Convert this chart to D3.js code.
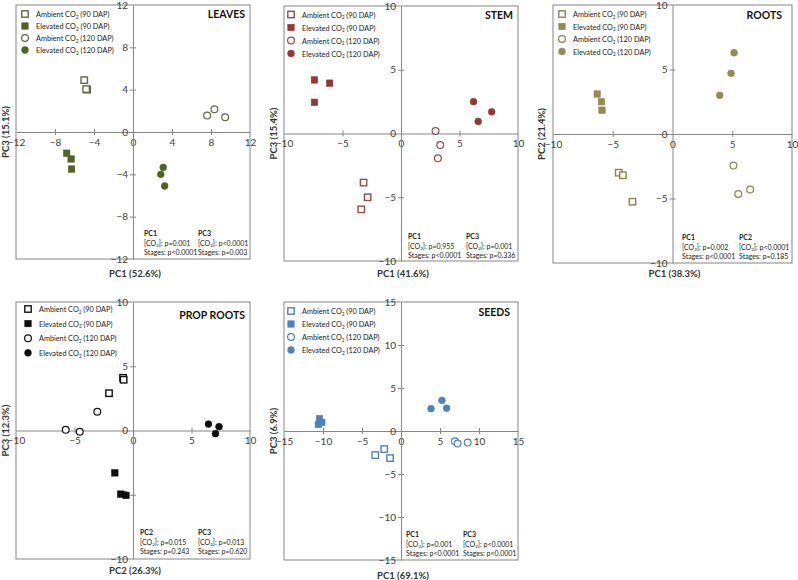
<!DOCTYPE html>
<html><head><meta charset="utf-8">
<script src="https://cdn.jsdelivr.net/npm/d3@7"></script>
<style>body{margin:0;background:#fff}svg{font-family:Lato,"Open Sans",sans-serif}</style>
</head><body>
<svg id="c" width="798" height="580"></svg>
<script>
// ---------- DATA ----------
const seriesNames = ["Ambient CO2 (90 DAP)","Elevated CO2 (90 DAP)","Ambient CO2 (120 DAP)","Elevated CO2 (120 DAP)"];
const panelTitles = ["LEAVES","STEM","ROOTS","PROP ROOTS","SEEDS"];
const xLabels = ["PC1 (52.6%)","PC1 (41.6%)","PC1 (38.3%)","PC2 (26.3%)","PC1 (69.1%)"];
const yLabels = ["PC3 (15.1%)","PC3 (15.4%)","PC2 (21.4%)","PC3 (12.3%)","PC3 (6.9%)"];
const axisLimits = [12,10,10,10,15];
const tickSteps = [4,5,5,5,5];

const leavesAmb90 = [[-5.0,4.9],[-4.7,4.0],[-4.8,4.05]];
const leavesEle90 = [[-6.8,-2.0],[-6.35,-2.55],[-6.3,-3.5]];
const leavesAmb120 = [[7.6,1.55],[8.35,2.15],[9.45,1.4]];
const leavesEle120 = [[3.1,-3.35],[2.85,-4.0],[3.25,-5.1]];

const stemAmb90 = [[-3.2,-3.85],[-2.85,-5.0],[-3.4,-5.95]];
const stemEle90 = [[-7.4,4.2],[-6.1,3.95],[-7.4,2.45]];
const stemAmb120 = [[2.95,0.2],[3.35,-0.9],[3.15,-1.95]];
const stemEle120 = [[6.2,2.5],[7.75,1.7],[6.6,0.95]];

const rootsAmb90 = [[-4.5,-3.0],[-4.15,-3.2],[-3.35,-5.25]];
const rootsEle90 = [[-6.3,3.1],[-5.95,2.5],[-5.9,1.85]];
const rootsAmb120 = [[5.1,-2.45],[5.5,-4.65],[6.5,-4.3]];
const rootsEle120 = [[5.15,6.3],[4.9,4.7],[3.95,3.0]];

const propAmb90 = [[-0.85,4.1],[-0.8,3.95],[-2.05,2.9]];
const propEle90 = [[-1.55,-3.3],[-1.05,-4.95],[-0.6,-5.05]];
const propAmb120 = [[-3.05,1.45],[-5.75,0.05],[-4.55,-0.1]];
const propEle120 = [[6.45,0.5],[7.35,0.3],[7.05,-0.25]];

const seedsAmb90 = [[-3.3,-2.8],[-2.15,-2.1],[-1.4,-3.15]];
const seedsEle90 = [[-10.45,1.45],[-10.15,1.0],[-10.6,0.75]];
const seedsAmb120 = [[6.9,-1.2],[7.25,-1.45],[8.55,-1.35]];
const seedsEle120 = [[3.85,2.6],[5.25,3.55],[5.85,2.65]];

const statHeads = [["PC1","PC3"],["PC1","PC3"],["PC1","PC2"],["PC2","PC3"],["PC1","PC3"]];
const statCO2 = [["p=0.001","p<0.0001"],["p=0.955","p=0.001"],["p=0.002","p<0.0001"],["p=0.015","p=0.013"],["p=0.001","p<0.0001"]];
const statStages = [["p<0.0001","p=0.003"],["p<0.0001","p=0.336"],["p<0.0001","p=0.185"],["p=0.243","p=0.620"],["p<0.0001","p<0.0001"]];

const panelData = [
  [leavesAmb90,leavesEle90,leavesAmb120,leavesEle120],
  [stemAmb90,stemEle90,stemAmb120,stemEle120],
  [rootsAmb90,rootsEle90,rootsAmb120,rootsEle120],
  [propAmb90,propEle90,propAmb120,propEle120],
  [seedsAmb90,seedsEle90,seedsAmb120,seedsEle120]
];

// ---------- STYLE / LAYOUT ----------
const colors = ["#4f6228","#953735","#938953","#0d0d0d","#4f81bd"];
const openStroke = ["#5d6b45","#9b4a48","#8a8256","#111111","#4f81bd"];
const openFill = ["#ffffff","#ffffff","#fffff4","#ffffff","#ffffff"];
const boxes = [
  {x0:16,x1:250,y0:5,y1:259, lg:{x:25,y:14,dy:12}, title:{x:245,y:18}, st:{x:144,y:236}, xl:276.5, yl:5},
  {x0:284,x1:518,y0:6,y1:261, lg:{x:291,y:14.5,dy:13}, title:{x:513,y:19}, st:{x:408,y:239}, xl:277, yl:273},
  {x0:553,x1:792,y0:5,y1:263, lg:{x:562,y:14,dy:12.5}, title:{x:782,y:19}, st:{x:682,y:240}, xl:277, yl:541},
  {x0:16,x1:250,y0:302,y1:559, lg:{x:28,y:309,dy:14.6}, title:{x:245,y:319}, st:{x:140,y:535}, xl:573.5, yl:5},
  {x0:284,x1:518,y0:302,y1:560, lg:{x:291,y:311,dy:13}, title:{x:510,y:316}, st:{x:406,y:537}, xl:578.5, yl:273}
];
const statDx = [54,58,57,58,57];
const axisColor = "#868686", textColor = "#404040";

const svg = d3.select("#c");

function co2Text(sel, pre, post, fs){
  sel.append("tspan").text(pre);
  sel.append("tspan").text("2").attr("font-size",fs*0.65).attr("dy",fs*0.25);
  sel.append("tspan").text(post).attr("dy",-fs*0.25);
}

panelData.forEach((series,i)=>{
  const b = boxes[i], L = axisLimits[i];
  const g = svg.append("g");
  const x = d3.scaleLinear().domain([-L,L]).range([b.x0,b.x1]);
  const y = d3.scaleLinear().domain([-L,L]).range([b.y1,b.y0]);
  const ticks = d3.range(-L, L+0.001, tickSteps[i]);

  g.append("rect").attr("x",b.x0).attr("y",b.y0).attr("width",b.x1-b.x0).attr("height",b.y1-b.y0)
    .attr("fill","none").attr("stroke",axisColor).attr("stroke-width",1);
  const xAxis = d3.axisBottom(x).tickValues(ticks).tickSize(0).tickPadding(0).tickFormat(d3.format("d"));
  const xg = g.append("g").attr("transform",`translate(0,${y(0)})`).call(xAxis);
  xg.select(".domain").attr("stroke",axisColor);
  xg.selectAll(".tick text").attr("fill",textColor).attr("font-size",10).attr("dy","1.15em").attr("y",2);
  xg.selectAll(".tick").filter(d=>d!==0 && Math.abs(d)!==L).append("line").attr("y1",-3).attr("y2",3).attr("stroke",axisColor);
  const yAxis = d3.axisLeft(y).tickValues(ticks).tickSize(0).tickPadding(5).tickFormat(d3.format("d"));
  const yg = g.append("g").attr("transform",`translate(${x(0)},0)`).call(yAxis);
  yg.select(".domain").attr("stroke",axisColor);
  yg.selectAll(".tick text").attr("fill",textColor).attr("font-size",10);
  yg.selectAll(".tick").filter(d=>d!==0 && Math.abs(d)!==L).append("line").attr("x1",-3).attr("x2",3).attr("stroke",axisColor);
  g.selectAll("text").attr("font-family","Lato,'Open Sans',sans-serif");

  // axis titles
  g.append("text").attr("x",(b.x0+b.x1)/2+2).attr("y",b.xl).attr("text-anchor","middle")
    .attr("font-size",9.5).attr("font-weight","bold").attr("fill","#333").text(xLabels[i]);
  g.append("text").attr("transform",`translate(${b.yl+4},${(b.y0+b.y1)/2}) rotate(-90)`).attr("text-anchor","middle")
    .attr("font-size",9.5).attr("font-weight","bold").attr("fill","#333").text(yLabels[i]);

  // title
  g.append("text").attr("x",b.title.x).attr("y",b.title.y).attr("text-anchor","end")
    .attr("font-size",10.5).attr("font-weight","bold").attr("fill","#111").text(panelTitles[i]);

  function marker(sel, k, px, py){
    const open = (k%2===0), sq = (k<2);
    const fill = open ? openFill[i] : colors[i];
    const stroke = open ? openStroke[i] : colors[i];
    if(sq){
      sel.append("rect").attr("x",px-3.2).attr("y",py-3.2).attr("width",6.4).attr("height",6.4)
        .attr("fill",fill).attr("stroke",stroke).attr("stroke-width",open?1.4:0.6);
    } else {
      sel.append("circle").attr("cx",px).attr("cy",py).attr("r",3.4)
        .attr("fill",fill).attr("stroke",stroke).attr("stroke-width",open?1.2:0.6);
    }
  }
  series.forEach((pts,k)=>{
    pts.forEach(p=>marker(g,k,x(p[0]),y(p[1])));
  });

  // legend
  seriesNames.forEach((nm,k)=>{
    const ly = b.lg.y + k*b.lg.dy;
    marker(g,k,b.lg.x,ly);
    const t = g.append("text").attr("x",b.lg.x+11).attr("y",ly+3).attr("font-size",7.3).attr("fill","#222");
    const parts = nm.split("CO2");
    co2Text(t, parts[0]+"CO", parts[1], 7.3);
  });

  // stats
  [0,1].forEach(c=>{
    const sx = b.st.x + c*statDx[i];
    g.append("text").attr("x",sx).attr("y",b.st.y).attr("font-size",7).attr("font-weight","bold").attr("fill","#222").text(statHeads[i][c]);
    const t1 = g.append("text").attr("x",sx).attr("y",b.st.y+9.5).attr("font-size",7).attr("fill","#222");
    co2Text(t1,"[CO","]: "+statCO2[i][c],7);
    g.append("text").attr("x",sx).attr("y",b.st.y+19).attr("font-size",7).attr("fill","#222").text("Stages: "+statStages[i][c]);
  });
});
</script>
</body></html>
